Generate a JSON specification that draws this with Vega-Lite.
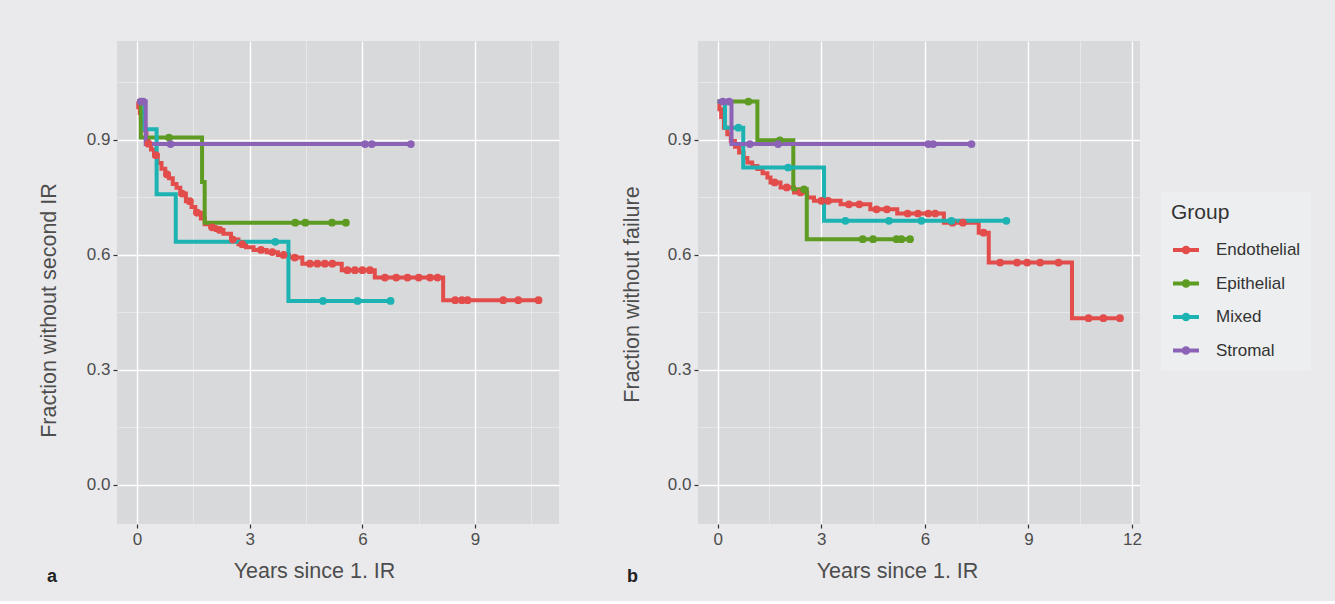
{
  "$schema": "https://vega.github.io/schema/vega-lite/v6.json",
  "background": "#eaeaec",
  "padding": {"left": 38, "top": 41, "right": 28, "bottom": 15},
  "autosize": {"type": "pad"},
  "config": {
    "view": {"fill": "#d8d9db", "stroke": null},
    "font": "Liberation Sans",
    "axis": {
      "domain": false,
      "grid": true,
      "gridColor": "#ffffff",
      "tickColor": "#333333",
      "tickSize": 4,
      "tickWidth": 1.2,
      "labelColor": "#4d4d4d",
      "labelFontSize": 17,
      "labelPadding": 3,
      "titleColor": "#4d4d4d",
      "titleFontSize": 21.5,
      "titleFontWeight": "normal"
    }
  },
  "datasets": {
    "km": [
      {"panel":"a","group":"Endothelial","time":0,"surv":1.0,"cens":0},
      {"panel":"a","group":"Endothelial","time":0.03,"surv":0.985,"cens":0},
      {"panel":"a","group":"Endothelial","time":0.07,"surv":0.97,"cens":0},
      {"panel":"a","group":"Endothelial","time":0.1,"surv":0.955,"cens":0},
      {"panel":"a","group":"Endothelial","time":0.15,"surv":0.94,"cens":0},
      {"panel":"a","group":"Endothelial","time":0.2,"surv":0.925,"cens":0},
      {"panel":"a","group":"Endothelial","time":0.25,"surv":0.905,"cens":0},
      {"panel":"a","group":"Endothelial","time":0.3,"surv":0.89,"cens":1},
      {"panel":"a","group":"Endothelial","time":0.37,"surv":0.875,"cens":0},
      {"panel":"a","group":"Endothelial","time":0.45,"surv":0.86,"cens":0},
      {"panel":"a","group":"Endothelial","time":0.5,"surv":0.86,"cens":1},
      {"panel":"a","group":"Endothelial","time":0.55,"surv":0.84,"cens":0},
      {"panel":"a","group":"Endothelial","time":0.65,"surv":0.825,"cens":0},
      {"panel":"a","group":"Endothelial","time":0.75,"surv":0.81,"cens":0},
      {"panel":"a","group":"Endothelial","time":0.8,"surv":0.81,"cens":1},
      {"panel":"a","group":"Endothelial","time":0.85,"surv":0.8,"cens":0},
      {"panel":"a","group":"Endothelial","time":0.95,"surv":0.785,"cens":0},
      {"panel":"a","group":"Endothelial","time":1.05,"surv":0.775,"cens":0},
      {"panel":"a","group":"Endothelial","time":1.15,"surv":0.76,"cens":0},
      {"panel":"a","group":"Endothelial","time":1.2,"surv":0.76,"cens":1},
      {"panel":"a","group":"Endothelial","time":1.3,"surv":0.74,"cens":0},
      {"panel":"a","group":"Endothelial","time":1.4,"surv":0.74,"cens":1},
      {"panel":"a","group":"Endothelial","time":1.45,"surv":0.725,"cens":0},
      {"panel":"a","group":"Endothelial","time":1.55,"surv":0.71,"cens":0},
      {"panel":"a","group":"Endothelial","time":1.6,"surv":0.71,"cens":1},
      {"panel":"a","group":"Endothelial","time":1.7,"surv":0.695,"cens":0},
      {"panel":"a","group":"Endothelial","time":1.8,"surv":0.68,"cens":0},
      {"panel":"a","group":"Endothelial","time":1.95,"surv":0.672,"cens":0},
      {"panel":"a","group":"Endothelial","time":2.0,"surv":0.672,"cens":1},
      {"panel":"a","group":"Endothelial","time":2.1,"surv":0.665,"cens":0},
      {"panel":"a","group":"Endothelial","time":2.2,"surv":0.665,"cens":1},
      {"panel":"a","group":"Endothelial","time":2.3,"surv":0.655,"cens":0},
      {"panel":"a","group":"Endothelial","time":2.5,"surv":0.64,"cens":0},
      {"panel":"a","group":"Endothelial","time":2.55,"surv":0.64,"cens":1},
      {"panel":"a","group":"Endothelial","time":2.7,"surv":0.628,"cens":0},
      {"panel":"a","group":"Endothelial","time":2.8,"surv":0.628,"cens":1},
      {"panel":"a","group":"Endothelial","time":2.9,"surv":0.62,"cens":0},
      {"panel":"a","group":"Endothelial","time":3.1,"surv":0.613,"cens":0},
      {"panel":"a","group":"Endothelial","time":3.3,"surv":0.613,"cens":1},
      {"panel":"a","group":"Endothelial","time":3.45,"surv":0.607,"cens":0},
      {"panel":"a","group":"Endothelial","time":3.6,"surv":0.607,"cens":1},
      {"panel":"a","group":"Endothelial","time":3.75,"surv":0.6,"cens":0},
      {"panel":"a","group":"Endothelial","time":3.9,"surv":0.6,"cens":1},
      {"panel":"a","group":"Endothelial","time":4.05,"surv":0.593,"cens":0},
      {"panel":"a","group":"Endothelial","time":4.2,"surv":0.593,"cens":1},
      {"panel":"a","group":"Endothelial","time":4.4,"surv":0.577,"cens":0},
      {"panel":"a","group":"Endothelial","time":4.6,"surv":0.577,"cens":1},
      {"panel":"a","group":"Endothelial","time":4.8,"surv":0.577,"cens":1},
      {"panel":"a","group":"Endothelial","time":5.0,"surv":0.577,"cens":1},
      {"panel":"a","group":"Endothelial","time":5.2,"surv":0.577,"cens":1},
      {"panel":"a","group":"Endothelial","time":5.45,"surv":0.56,"cens":0},
      {"panel":"a","group":"Endothelial","time":5.6,"surv":0.56,"cens":1},
      {"panel":"a","group":"Endothelial","time":5.8,"surv":0.56,"cens":1},
      {"panel":"a","group":"Endothelial","time":6.0,"surv":0.56,"cens":1},
      {"panel":"a","group":"Endothelial","time":6.2,"surv":0.56,"cens":1},
      {"panel":"a","group":"Endothelial","time":6.33,"surv":0.541,"cens":0},
      {"panel":"a","group":"Endothelial","time":6.6,"surv":0.541,"cens":1},
      {"panel":"a","group":"Endothelial","time":6.9,"surv":0.541,"cens":1},
      {"panel":"a","group":"Endothelial","time":7.2,"surv":0.541,"cens":1},
      {"panel":"a","group":"Endothelial","time":7.5,"surv":0.541,"cens":1},
      {"panel":"a","group":"Endothelial","time":7.8,"surv":0.541,"cens":1},
      {"panel":"a","group":"Endothelial","time":8.0,"surv":0.541,"cens":1},
      {"panel":"a","group":"Endothelial","time":8.15,"surv":0.482,"cens":0},
      {"panel":"a","group":"Endothelial","time":8.47,"surv":0.482,"cens":1},
      {"panel":"a","group":"Endothelial","time":8.65,"surv":0.482,"cens":1},
      {"panel":"a","group":"Endothelial","time":8.8,"surv":0.482,"cens":1},
      {"panel":"a","group":"Endothelial","time":9.75,"surv":0.482,"cens":1},
      {"panel":"a","group":"Endothelial","time":10.15,"surv":0.482,"cens":1},
      {"panel":"a","group":"Endothelial","time":10.69,"surv":0.482,"cens":1},

      {"panel":"a","group":"Epithelial","time":0,"surv":1.0,"cens":0},
      {"panel":"a","group":"Epithelial","time":0.1,"surv":0.906,"cens":0},
      {"panel":"a","group":"Epithelial","time":0.85,"surv":0.906,"cens":1},
      {"panel":"a","group":"Epithelial","time":1.73,"surv":0.79,"cens":0},
      {"panel":"a","group":"Epithelial","time":1.8,"surv":0.684,"cens":0},
      {"panel":"a","group":"Epithelial","time":4.21,"surv":0.684,"cens":1},
      {"panel":"a","group":"Epithelial","time":4.48,"surv":0.684,"cens":1},
      {"panel":"a","group":"Epithelial","time":5.19,"surv":0.684,"cens":1},
      {"panel":"a","group":"Epithelial","time":5.56,"surv":0.684,"cens":1},

      {"panel":"a","group":"Mixed","time":0,"surv":1.0,"cens":0},
      {"panel":"a","group":"Mixed","time":0.2,"surv":0.928,"cens":0},
      {"panel":"a","group":"Mixed","time":0.52,"surv":0.758,"cens":0},
      {"panel":"a","group":"Mixed","time":1.03,"surv":0.634,"cens":0},
      {"panel":"a","group":"Mixed","time":3.68,"surv":0.634,"cens":1},
      {"panel":"a","group":"Mixed","time":4.03,"surv":0.48,"cens":0},
      {"panel":"a","group":"Mixed","time":4.95,"surv":0.48,"cens":1},
      {"panel":"a","group":"Mixed","time":5.87,"surv":0.48,"cens":1},
      {"panel":"a","group":"Mixed","time":6.75,"surv":0.48,"cens":1},

      {"panel":"a","group":"Stromal","time":0,"surv":1.0,"cens":0},
      {"panel":"a","group":"Stromal","time":0.1,"surv":1.0,"cens":1},
      {"panel":"a","group":"Stromal","time":0.16,"surv":1.0,"cens":1},
      {"panel":"a","group":"Stromal","time":0.23,"surv":0.889,"cens":0},
      {"panel":"a","group":"Stromal","time":0.89,"surv":0.889,"cens":1},
      {"panel":"a","group":"Stromal","time":6.07,"surv":0.889,"cens":1},
      {"panel":"a","group":"Stromal","time":6.25,"surv":0.889,"cens":1},
      {"panel":"a","group":"Stromal","time":7.29,"surv":0.889,"cens":1},

      {"panel":"b","group":"Endothelial","time":0,"surv":1.0,"cens":0},
      {"panel":"b","group":"Endothelial","time":0.05,"surv":0.98,"cens":0},
      {"panel":"b","group":"Endothelial","time":0.1,"surv":0.96,"cens":0},
      {"panel":"b","group":"Endothelial","time":0.18,"surv":0.932,"cens":0},
      {"panel":"b","group":"Endothelial","time":0.28,"surv":0.915,"cens":0},
      {"panel":"b","group":"Endothelial","time":0.38,"surv":0.897,"cens":0},
      {"panel":"b","group":"Endothelial","time":0.5,"surv":0.882,"cens":0},
      {"panel":"b","group":"Endothelial","time":0.62,"surv":0.867,"cens":0},
      {"panel":"b","group":"Endothelial","time":0.75,"surv":0.853,"cens":0},
      {"panel":"b","group":"Endothelial","time":0.86,"surv":0.841,"cens":0},
      {"panel":"b","group":"Endothelial","time":1.0,"surv":0.832,"cens":0},
      {"panel":"b","group":"Endothelial","time":1.15,"surv":0.824,"cens":0},
      {"panel":"b","group":"Endothelial","time":1.3,"surv":0.813,"cens":0},
      {"panel":"b","group":"Endothelial","time":1.44,"surv":0.802,"cens":0},
      {"panel":"b","group":"Endothelial","time":1.53,"surv":0.789,"cens":0},
      {"panel":"b","group":"Endothelial","time":1.65,"surv":0.789,"cens":1},
      {"panel":"b","group":"Endothelial","time":1.82,"surv":0.776,"cens":0},
      {"panel":"b","group":"Endothelial","time":2.0,"surv":0.776,"cens":1},
      {"panel":"b","group":"Endothelial","time":2.21,"surv":0.763,"cens":0},
      {"panel":"b","group":"Endothelial","time":2.4,"surv":0.763,"cens":1},
      {"panel":"b","group":"Endothelial","time":2.59,"surv":0.75,"cens":0},
      {"panel":"b","group":"Endothelial","time":2.79,"surv":0.741,"cens":0},
      {"panel":"b","group":"Endothelial","time":3.0,"surv":0.741,"cens":1},
      {"panel":"b","group":"Endothelial","time":3.2,"surv":0.741,"cens":1},
      {"panel":"b","group":"Endothelial","time":3.56,"surv":0.732,"cens":0},
      {"panel":"b","group":"Endothelial","time":3.8,"surv":0.732,"cens":1},
      {"panel":"b","group":"Endothelial","time":4.1,"surv":0.732,"cens":1},
      {"panel":"b","group":"Endothelial","time":4.42,"surv":0.719,"cens":0},
      {"panel":"b","group":"Endothelial","time":4.6,"surv":0.719,"cens":1},
      {"panel":"b","group":"Endothelial","time":4.9,"surv":0.719,"cens":1},
      {"panel":"b","group":"Endothelial","time":5.2,"surv":0.708,"cens":0},
      {"panel":"b","group":"Endothelial","time":5.5,"surv":0.708,"cens":1},
      {"panel":"b","group":"Endothelial","time":5.8,"surv":0.708,"cens":1},
      {"panel":"b","group":"Endothelial","time":6.1,"surv":0.708,"cens":1},
      {"panel":"b","group":"Endothelial","time":6.3,"surv":0.708,"cens":1},
      {"panel":"b","group":"Endothelial","time":6.55,"surv":0.684,"cens":0},
      {"panel":"b","group":"Endothelial","time":6.8,"surv":0.684,"cens":1},
      {"panel":"b","group":"Endothelial","time":7.1,"surv":0.684,"cens":1},
      {"panel":"b","group":"Endothelial","time":7.56,"surv":0.658,"cens":0},
      {"panel":"b","group":"Endothelial","time":7.7,"surv":0.658,"cens":1},
      {"panel":"b","group":"Endothelial","time":7.85,"surv":0.58,"cens":0},
      {"panel":"b","group":"Endothelial","time":8.18,"surv":0.58,"cens":1},
      {"panel":"b","group":"Endothelial","time":8.67,"surv":0.58,"cens":1},
      {"panel":"b","group":"Endothelial","time":8.96,"surv":0.58,"cens":1},
      {"panel":"b","group":"Endothelial","time":9.34,"surv":0.58,"cens":1},
      {"panel":"b","group":"Endothelial","time":9.87,"surv":0.58,"cens":1},
      {"panel":"b","group":"Endothelial","time":10.26,"surv":0.435,"cens":0},
      {"panel":"b","group":"Endothelial","time":10.74,"surv":0.435,"cens":1},
      {"panel":"b","group":"Endothelial","time":11.17,"surv":0.435,"cens":1},
      {"panel":"b","group":"Endothelial","time":11.65,"surv":0.435,"cens":1},

      {"panel":"b","group":"Epithelial","time":0,"surv":1.0,"cens":0},
      {"panel":"b","group":"Epithelial","time":0.89,"surv":1.0,"cens":1},
      {"panel":"b","group":"Epithelial","time":1.15,"surv":0.899,"cens":0},
      {"panel":"b","group":"Epithelial","time":1.8,"surv":0.899,"cens":1},
      {"panel":"b","group":"Epithelial","time":2.19,"surv":0.771,"cens":0},
      {"panel":"b","group":"Epithelial","time":2.5,"surv":0.771,"cens":1},
      {"panel":"b","group":"Epithelial","time":2.58,"surv":0.641,"cens":0},
      {"panel":"b","group":"Epithelial","time":4.2,"surv":0.641,"cens":1},
      {"panel":"b","group":"Epithelial","time":4.5,"surv":0.641,"cens":1},
      {"panel":"b","group":"Epithelial","time":5.18,"surv":0.641,"cens":1},
      {"panel":"b","group":"Epithelial","time":5.32,"surv":0.641,"cens":1},
      {"panel":"b","group":"Epithelial","time":5.57,"surv":0.641,"cens":1},

      {"panel":"b","group":"Mixed","time":0,"surv":1.0,"cens":0},
      {"panel":"b","group":"Mixed","time":0.21,"surv":0.932,"cens":0},
      {"panel":"b","group":"Mixed","time":0.6,"surv":0.932,"cens":1},
      {"panel":"b","group":"Mixed","time":0.74,"surv":0.828,"cens":0},
      {"panel":"b","group":"Mixed","time":2.04,"surv":0.828,"cens":1},
      {"panel":"b","group":"Mixed","time":3.08,"surv":0.689,"cens":0},
      {"panel":"b","group":"Mixed","time":3.7,"surv":0.689,"cens":1},
      {"panel":"b","group":"Mixed","time":4.96,"surv":0.689,"cens":1},
      {"panel":"b","group":"Mixed","time":5.9,"surv":0.689,"cens":1},
      {"panel":"b","group":"Mixed","time":6.77,"surv":0.689,"cens":1},
      {"panel":"b","group":"Mixed","time":8.36,"surv":0.689,"cens":1},

      {"panel":"b","group":"Stromal","time":0,"surv":1.0,"cens":0},
      {"panel":"b","group":"Stromal","time":0.15,"surv":1.0,"cens":1},
      {"panel":"b","group":"Stromal","time":0.33,"surv":1.0,"cens":1},
      {"panel":"b","group":"Stromal","time":0.4,"surv":0.889,"cens":0},
      {"panel":"b","group":"Stromal","time":0.93,"surv":0.889,"cens":1},
      {"panel":"b","group":"Stromal","time":1.75,"surv":0.889,"cens":1},
      {"panel":"b","group":"Stromal","time":6.1,"surv":0.889,"cens":1},
      {"panel":"b","group":"Stromal","time":6.24,"surv":0.889,"cens":1},
      {"panel":"b","group":"Stromal","time":7.35,"surv":0.889,"cens":1}
    ]
  },
  "spacing": 62,
  "resolve": {"scale": {"color": "shared"}},
  "hconcat": [
    {
      "width": 442,
      "height": 483,
      "data": {"name": "km"},
      "transform": [{"filter": "datum.panel === 'a'"}],
      "title": {"text": "a", "orient": "bottom", "anchor": "start", "frame": "bounds", "fontSize": 18, "fontWeight": "bold", "color": "#222222", "baseline": "alphabetic", "offset": 0, "dx": 9},
      "encoding": {
        "x": {
          "field": "time", "type": "quantitative",
          "scale": {"domain": [-0.535, 11.235], "nice": false, "zero": false},
          "axis": {
            "title": "Years since 1. IR",
            "values": [0, 1.5, 3, 4.5, 6, 7.5, 9, 10.5],
            "labelExpr": "round(datum.value/1.5) % 2 === 0 ? format(datum.value, 'd') : ''",
            "tickOpacity": {"condition": {"test": "round(datum.value/1.5) % 2 === 0", "value": 1}, "value": 0},
            "gridWidth": {"condition": {"test": "round(datum.value/1.5) % 2 === 0", "value": 1.4}, "value": 0.7},
            "gridOpacity": {"condition": {"test": "round(datum.value/1.5) % 2 === 0", "value": 1}, "value": 0.55},
            "titleX": 197, "titleY": 47, "titleBaseline": "middle"
          }
        },
        "y": {
          "field": "surv", "type": "quantitative",
          "scale": {"domain": [-0.102, 1.158], "nice": false, "zero": false},
          "axis": {
            "title": "Fraction without second IR",
            "values": [0, 0.15, 0.3, 0.45, 0.6, 0.75, 0.9, 1.05],
            "labelExpr": "round(datum.value/0.15) % 2 === 0 ? format(datum.value, '.1f') : ''",
            "tickOpacity": {"condition": {"test": "round(datum.value/0.15) % 2 === 0", "value": 1}, "value": 0},
            "gridWidth": {"condition": {"test": "round(datum.value/0.15) % 2 === 0", "value": 1.4}, "value": 0.7},
            "gridOpacity": {"condition": {"test": "round(datum.value/0.15) % 2 === 0", "value": 1}, "value": 0.55},
            "titleX": -68, "titleY": 269, "titleBaseline": "middle"
          }
        },
        "color": {
          "field": "group", "type": "nominal",
          "scale": {"domain": ["Endothelial", "Epithelial", "Mixed", "Stromal"], "range": ["#e24c4a", "#5e9b22", "#1db3b3", "#8b62b6"]},
          "legend": {
            "title": "Group", "orient": "none", "legendX": 1044, "legendY": 151,
            "titleFontSize": 21, "titleFontWeight": "normal", "titleColor": "#333333", "titlePadding": 12,
            "labelFontSize": 17, "labelColor": "#333333", "labelOffset": 15,
            "symbolType": "M-1,0H1M-0.18,0A0.18,0.18 0 1,0 0.18,0A0.18,0.18 0 1,0 -0.18,0",
            "symbolSize": 676, "symbolStrokeWidth": 4,
            "rowPadding": 7.5, "padding": 10, "fillColor": "#edeef0"
          }
        }
      },
      "layer": [
        {"mark": {"type": "line", "interpolate": "step-after", "strokeWidth": 4}},
        {"transform": [{"filter": "datum.cens === 1"}], "mark": {"type": "circle", "size": 60, "opacity": 1}}
      ]
    },
    {
      "width": 442,
      "height": 483,
      "data": {"name": "km"},
      "transform": [{"filter": "datum.panel === 'b'"}],
      "title": {"text": "b", "orient": "bottom", "anchor": "start", "frame": "bounds", "fontSize": 18, "fontWeight": "bold", "color": "#222222", "baseline": "alphabetic", "offset": 0, "dx": 6},
      "encoding": {
        "x": {
          "field": "time", "type": "quantitative",
          "scale": {"domain": [-0.57, 12.23], "nice": false, "zero": false},
          "axis": {
            "title": "Years since 1. IR",
            "values": [0, 1.5, 3, 4.5, 6, 7.5, 9, 10.5, 12],
            "labelExpr": "round(datum.value/1.5) % 2 === 0 ? format(datum.value, 'd') : ''",
            "tickOpacity": {"condition": {"test": "round(datum.value/1.5) % 2 === 0", "value": 1}, "value": 0},
            "gridWidth": {"condition": {"test": "round(datum.value/1.5) % 2 === 0", "value": 1.4}, "value": 0.7},
            "gridOpacity": {"condition": {"test": "round(datum.value/1.5) % 2 === 0", "value": 1}, "value": 0.55},
            "titleX": 199, "titleY": 47, "titleBaseline": "middle"
          }
        },
        "y": {
          "field": "surv", "type": "quantitative",
          "scale": {"domain": [-0.102, 1.158], "nice": false, "zero": false},
          "axis": {
            "title": "Fraction without failure",
            "values": [0, 0.15, 0.3, 0.45, 0.6, 0.75, 0.9, 1.05],
            "labelExpr": "round(datum.value/0.15) % 2 === 0 ? format(datum.value, '.1f') : ''",
            "tickOpacity": {"condition": {"test": "round(datum.value/0.15) % 2 === 0", "value": 1}, "value": 0},
            "gridWidth": {"condition": {"test": "round(datum.value/0.15) % 2 === 0", "value": 1.4}, "value": 0.7},
            "gridOpacity": {"condition": {"test": "round(datum.value/0.15) % 2 === 0", "value": 1}, "value": 0.55},
            "titleX": -66, "titleY": 253, "titleBaseline": "middle"
          }
        },
        "color": {
          "field": "group", "type": "nominal",
          "scale": {"domain": ["Endothelial", "Epithelial", "Mixed", "Stromal"], "range": ["#e24c4a", "#5e9b22", "#1db3b3", "#8b62b6"]}
        }
      },
      "layer": [
        {"mark": {"type": "line", "interpolate": "step-after", "strokeWidth": 4}},
        {"transform": [{"filter": "datum.cens === 1"}], "mark": {"type": "circle", "size": 60, "opacity": 1}}
      ]
    }
  ]
}
